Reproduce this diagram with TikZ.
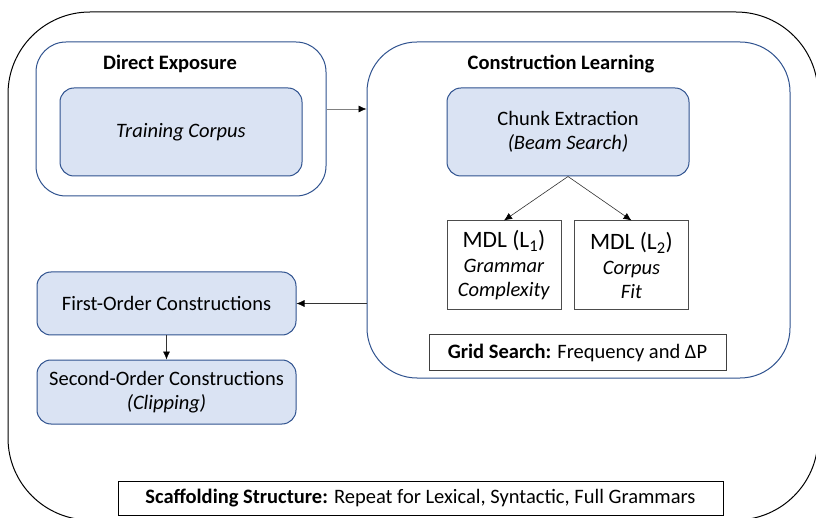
\documentclass[tikz,border=0pt]{standalone}
\usepackage{fontspec}
\setmainfont{Carlito}
\usetikzlibrary{arrows.meta}
\definecolor{edgeblue}{RGB}{47,82,143}
\definecolor{fillblue}{RGB}{218,227,243}
\begin{document}
\begin{tikzpicture}[x=1pt,y=-1pt,
	every node/.style={font=\fontsize{20.5}{24.5}\selectfont, inner sep=0pt},
	panel/.style={draw=edgeblue, fill=white, line width=1pt},
	stepbox/.style={draw=edgeblue, fill=fillblue, line width=1pt, rounded corners=14pt, align=center},
	mdlbox/.style={draw=black!70, line width=1pt, align=center, minimum width=114pt, minimum height=89pt},
	notebox/.style={draw=black, line width=1pt},
	link/.style={draw=black!80, line width=0.6pt, -{Latex[length=8pt,width=7pt,color=black]}}]
		\useasboundingbox (0,0) rectangle (816,518);
		\begin{scope}
		\clip (0,0) rectangle (816,518);
		\draw[line width=1pt, rounded corners=82pt] (8,12) rectangle (818,520);
		\end{scope}
		\begin{scope}
		\node[panel, rounded corners=30pt, minimum width=290pt, minimum height=154pt] (exposure) at (181,119) {};
		\node[font=\fontsize{20.5}{24.5}\selectfont\bfseries] (exposuretitle) at (170,64) {Direct Exposure};
		\node[stepbox, minimum width=242pt, minimum height=88pt] (corpus) at (181,132) {\textit{Training Corpus}};
		\end{scope}
		\begin{scope}
		\node[panel, rounded corners=50pt, minimum width=423pt, minimum height=336pt] (learning) at (578.5,210) {};
		\node[font=\fontsize{20.5}{24.5}\selectfont\bfseries] (learningtitle) at (561,64) {Construction Learning};
		\node[stepbox, minimum width=242pt, minimum height=88pt] (chunk) at (568,132) {Chunk Extraction\\ \textit{(Beam Search)}};
		\node[mdlbox] (mdlone) at (504,265.5) {{\fontsize{23.5}{25.5}\selectfont MDL (L\textsubscript{1})}\\ \textit{Grammar}\\ \textit{Complexity}};
		\node[mdlbox] (mdltwo) at (631.5,265.5) {{\fontsize{23.5}{25.5}\selectfont MDL (L\textsubscript{2})}\\ \textit{Corpus}\\ \textit{Fit}};
		\node[notebox, draw=black!75, minimum width=297pt, minimum height=35pt] (grid) at (577.5,352.5) {\textbf{Grid Search:} Frequency and ΔP};
		\end{scope}
		\node[stepbox, minimum width=259pt, minimum height=63pt] (first) at (166.5,303.5) {First-Order Constructions};
		\node[stepbox, minimum width=259pt, minimum height=64pt] (second) at (166.5,392) {Second-Order Constructions\\ \textit{(Clipping)}};
		\node[notebox, minimum width=605pt, minimum height=34pt] (scaffold) at (420.5,498) {\textbf{Scaffolding Structure:} Repeat for Lexical, Syntactic, Full Grammars};
		\draw[link, draw=gray] ([yshift=10pt]exposure.east) -- ([yshift=10pt]exposure.east -| learning.west);
		\draw[link] (chunk.south) -- (mdlone.north);
		\draw[link] (chunk.south) -- (mdltwo.north);
		\draw[link] (learning.west |- first.east) -- (first.east);
		\draw[link] (first.south) -- (second.north);
\end{tikzpicture}
\end{document}
